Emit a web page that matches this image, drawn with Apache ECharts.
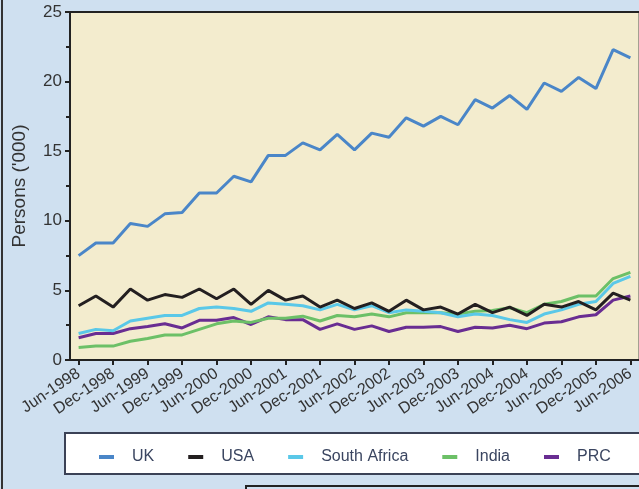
<!DOCTYPE html>
<html>
<head>
<meta charset="utf-8">
<script src="https://cdn.jsdelivr.net/npm/echarts@6/dist/echarts.min.js"></script>
<style>
    html, body { margin: 0; padding: 0; background: #cfe0f0; }
    #chart { width: 639px; height: 489px; }
</style>
</head>
<body>
<div id="chart"></div>
<script>
// quarterly periods
var quarters = ['Jun-1998', 'Sep-1998', 'Dec-1998', 'Mar-1999', 'Jun-1999', 'Sep-1999', 'Dec-1999', 'Mar-2000',
    'Jun-2000', 'Sep-2000', 'Dec-2000', 'Mar-2001', 'Jun-2001', 'Sep-2001', 'Dec-2001', 'Mar-2002',
    'Jun-2002', 'Sep-2002', 'Dec-2002', 'Mar-2003', 'Jun-2003', 'Sep-2003', 'Dec-2003', 'Mar-2004',
    'Jun-2004', 'Sep-2004', 'Dec-2004', 'Mar-2005', 'Jun-2005', 'Sep-2005', 'Dec-2005', 'Mar-2006', 'Jun-2006'];

var seriesNames = ['UK', 'USA', 'South Africa', 'India', 'PRC'];

var ukData = [7.5, 8.4, 8.4, 9.8, 9.6, 10.5, 10.6, 12.0, 12.0, 13.2, 12.8, 14.7, 14.7, 15.6, 15.1, 16.2, 15.1,
    16.3, 16.0, 17.4, 16.8, 17.5, 16.9, 18.7, 18.1, 19.0, 18.0, 19.9, 19.3, 20.3, 19.5, 22.3, 21.7];
var usaData = [3.9, 4.6, 3.8, 5.1, 4.3, 4.7, 4.5, 5.1, 4.4, 5.1, 4.0, 5.0, 4.3, 4.6, 3.8, 4.3, 3.7,
    4.1, 3.5, 4.3, 3.6, 3.8, 3.3, 4.0, 3.4, 3.8, 3.2, 4.0, 3.8, 4.2, 3.6, 4.8, 4.3];
var saData = [1.9, 2.2, 2.1, 2.8, 3.0, 3.2, 3.2, 3.7, 3.8, 3.7, 3.5, 4.1, 4.0, 3.9, 3.6, 4.0, 3.6,
    3.9, 3.4, 3.6, 3.5, 3.4, 3.1, 3.3, 3.2, 2.9, 2.7, 3.3, 3.6, 4.0, 4.2, 5.5, 6.0];
var indiaData = [0.9, 1.0, 1.0, 1.35, 1.55, 1.8, 1.8, 2.2, 2.6, 2.8, 2.7, 3.0, 3.0, 3.15, 2.8, 3.2, 3.1,
    3.3, 3.1, 3.4, 3.4, 3.4, 3.3, 3.5, 3.55, 3.75, 3.4, 4.0, 4.2, 4.6, 4.6, 5.85, 6.3];
var prcData = [1.6, 1.9, 1.9, 2.25, 2.4, 2.6, 2.3, 2.85, 2.85, 3.05, 2.55, 3.1, 2.9, 2.9, 2.2, 2.6, 2.2,
    2.45, 2.05, 2.35, 2.35, 2.4, 2.05, 2.35, 2.3, 2.5, 2.25, 2.65, 2.75, 3.1, 3.25, 4.3, 4.6];

var colors = ['#4a86c8', '#231f20', '#5ac8e8', '#6cc067', '#692d92'];
var allData = [ukData, usaData, saData, indiaData, prcData];

var chart = echarts.init(document.getElementById('chart'));

var series = [];
for (var i = 0; i < seriesNames.length; i++) {
    series.push({
        name: seriesNames[i],
        type: 'line',
        data: allData[i],
        symbol: 'none',
        lineStyle: { width: 3, color: colors[i] },
        itemStyle: { color: colors[i] },
        z: 10 - i
    });
}

var option = {
    backgroundColor: '#cfe0f0',
    animation: false,
    textStyle: { fontFamily: 'Liberation Sans, Arial, sans-serif' },
    grid: {
        left: 70, top: 12, width: 570, height: 348,
        show: true,
        backgroundColor: '#f3ecce',
        borderColor: '#555',
        borderWidth: 1,
        containLabel: false
    },
    graphic: [
        {
            type: 'rect', shape: { x: 65, y: 433, width: 590, height: 41 },
            style: { fill: '#ffffff', stroke: '#3b4256', lineWidth: 2 }, z: 0
        },
        {
            type: 'rect', shape: { x: 246, y: 486, width: 420, height: 30 },
            style: { fill: 'none', stroke: '#222', lineWidth: 2 }, z: 0
        },
        {
            type: 'line', shape: { x1: 2, y1: 0, x2: 2, y2: 489 },
            style: { stroke: '#333', lineWidth: 2 }, z: 0
        },
        {
            type: 'line', shape: { x1: 70, y1: 12, x2: 639, y2: 12 },
            style: { stroke: '#222', lineWidth: 2 }, z: 5
        }
    ],
    legend: {
        data: seriesNames,
        left: 94,
        top: 444,
        icon: 'rect',
        itemWidth: 15,
        itemHeight: 4,
        itemGap: 34,
        textStyle: { color: '#3a4560', fontSize: 16, padding: [0, 0, 0, 13] },
        z: 20
    },
    xAxis: {
        type: 'category',
        data: quarters,
        boundaryGap: true,
        axisLine: { lineStyle: { color: '#222', width: 2 } },
        axisTick: { show: true, interval: 1, alignWithLabel: true, length: 5, lineStyle: { color: '#222', width: 2 } },
        axisLabel: { interval: 1, rotate: 34, color: '#333', fontSize: 16, margin: 12 }
    },
    yAxis: {
        type: 'value',
        min: 0,
        max: 25,
        interval: 5,
        name: "Persons ('000)",
        nameLocation: 'middle',
        nameGap: 41,
        nameTextStyle: { color: '#333', fontSize: 19 },
        axisLine: { show: true, lineStyle: { color: '#222', width: 2 } },
        axisTick: { show: true, length: 5, lineStyle: { color: '#222', width: 2 } },
        minorTick: { show: true, splitNumber: 2, length: 4, lineStyle: { color: '#222', width: 2 } },
        splitLine: { show: false },
        axisLabel: { color: '#333', fontSize: 17, margin: 8 }
    },
    series: series
};
chart.setOption(option);
</script>
</body>
</html>
